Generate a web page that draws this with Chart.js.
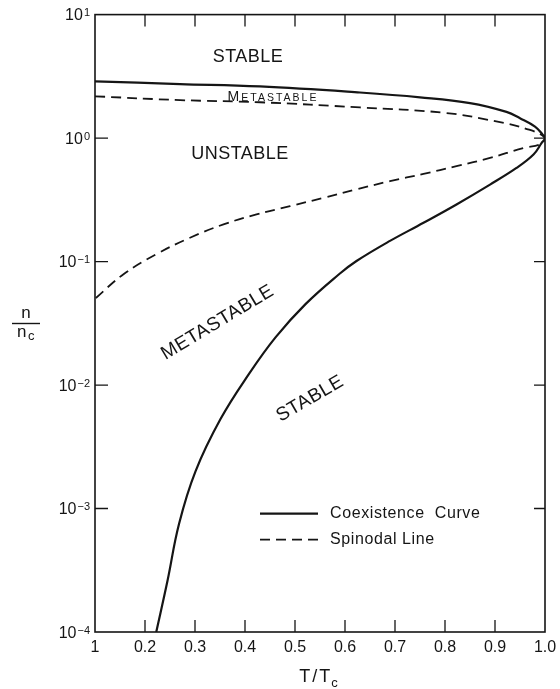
<!DOCTYPE html>
<html lang="en">
<head>
  <meta charset="UTF-8">
  <title>Coexistence curve and spinodal line</title>
  <script src="https://cdn.jsdelivr.net/npm/chart.js@4.4.1/dist/chart.umd.min.js"></script>
  <style>
    html, body { margin: 0; padding: 0; background: #fff; }
    #wrap { width: 560px; height: 689px; position: relative; }
  </style>
</head>
<body>
  <div id="wrap"><canvas id="phase"></canvas></div>

  <script>
    // values: dense branch left -> critical point -> dilute branch down
    const coexT = [0.1, 0.27, 0.43, 0.63, 0.75, 0.85, 0.923, 0.95, 0.98, 0.995, 1.0,
                   0.993, 0.977, 0.943, 0.89, 0.823, 0.757, 0.69, 0.623, 0.588, 0.521,
                   0.461, 0.408, 0.351, 0.301, 0.268, 0.245, 0.2225]
    const coexN = [2.88, 2.74, 2.62, 2.34, 2.14, 1.92, 1.63, 1.45, 1.24, 1.07, 1.0,
                   0.91, 0.736, 0.573, 0.42, 0.29, 0.206, 0.147, 0.101, 0.0789, 0.0452,
                   0.0243, 0.0123, 0.0053, 0.002, 0.00075, 0.00026, 0.0001]

    const spinT = [0.1, 0.27, 0.43, 0.63, 0.80, 0.90, 0.968, 1.0,
                   0.99, 0.957, 0.89, 0.823, 0.757, 0.69, 0.623, 0.557, 0.49,
                   0.423, 0.357, 0.29, 0.223, 0.157, 0.1]
    const spinN = [2.18, 2.03, 1.95, 1.77, 1.60, 1.37, 1.17, 1.0,
                   0.89, 0.832, 0.69, 0.592, 0.513, 0.448, 0.384, 0.328, 0.281,
                   0.241, 0.2, 0.156, 0.115, 0.079, 0.05]

    const tempTicks = [0.1, 0.2, 0.3, 0.4, 0.5, 0.6, 0.7, 0.8, 0.9, 1.0]
    const tempTickLabels = ["1", "0.2", "0.3", "0.4", "0.5", "0.6", "0.7", "0.8", "0.9", "1.0"]
    const densTicks = [1e-4, 1e-3, 1e-2, 1e-1, 1, 10]
    const densTickExps = ["−4", "−3", "−2", "−1", "0", "1"]

    const regionNames = ["STABLE", "METASTABLE", "UNSTABLE", "METASTABLE", "STABLE"]
    const legendNames = ["Coexistence  Curve", "Spinodal Line"]

    // where the words sit, in T/Tc and n/nc
    const regionSpots = [
      { t: 0.406, n: 4.5, rot: 0, size: 18 },
      { t: 0.456, n: 1.98, rot: 0, size: 0 },
      { t: 0.39, n: 0.74, rot: 0, size: 18 },
      { t: 0.345, n: 0.0321, rot: -31, size: 19 },
      { t: 0.53, n: 0.00773, rot: -30, size: 19 }
    ]
    const legendSpot = { t0: 0.43, t1: 0.546, tText: 0.57, n: [9.1e-4, 5.6e-4] }

    const ink = "#151515"
    const face = '"Liberation Sans", Arial, sans-serif'

    function smallCaps(ctx, word, cx, baseY) {
      ctx.letterSpacing = "2px"
      ctx.font = `14px ${face}`
      const w0 = ctx.measureText(word[0]).width
      ctx.font = `10.5px ${face}`
      const w1 = ctx.measureText(word.slice(1)).width
      const left = cx - (w0 + w1) / 2
      ctx.textAlign = "left"
      ctx.textBaseline = "alphabetic"
      ctx.font = `14px ${face}`
      ctx.fillText(word[0], left, baseY)
      ctx.font = `10.5px ${face}`
      ctx.fillText(word.slice(1), left + w0, baseY)
      ctx.letterSpacing = "0px"
    }

    const phaseDecor = {
      id: "phaseDecor",
      afterDraw(chart) {
        const { ctx, chartArea: a, scales: { x, y } } = chart
        ctx.save()
        ctx.strokeStyle = ink
        ctx.fillStyle = ink

        // frame + inward ticks
        ctx.lineWidth = 1.6
        ctx.strokeRect(a.left, a.top, a.right - a.left, a.bottom - a.top)
        ctx.lineWidth = 1.3
        ctx.beginPath()
        tempTicks.slice(1, -1).forEach(v => {
          const px = x.getPixelForValue(v)
          ctx.moveTo(px, a.bottom); ctx.lineTo(px, a.bottom - 12)
          ctx.moveTo(px, a.top); ctx.lineTo(px, a.top + 12)
        })
        densTicks.slice(1, -1).forEach(v => {
          const py = y.getPixelForValue(v)
          ctx.moveTo(a.left, py); ctx.lineTo(a.left + 13, py)
          ctx.moveTo(a.right, py); ctx.lineTo(a.right - 11, py)
        })
        ctx.stroke()

        // decade labels 10^k with a real raised exponent
        ctx.textBaseline = "alphabetic"
        ctx.textAlign = "left"
        densTicks.forEach((v, i) => {
          const py = y.getPixelForValue(v)
          ctx.font = `11px ${face}`
          const we = ctx.measureText(densTickExps[i]).width
          ctx.font = `16px ${face}`
          const wb = ctx.measureText("10").width
          const right = a.left - 5
          ctx.fillText("10", right - we - wb - 1, py + 5.5)
          ctx.font = `11px ${face}`
          ctx.fillText(densTickExps[i], right - we, py + 1.5)
        })

        // region words
        regionNames.forEach((word, i) => {
          const s = regionSpots[i]
          const px = x.getPixelForValue(s.t)
          const py = y.getPixelForValue(s.n)
          if (!s.size) { smallCaps(ctx, word, px, py); return }
          ctx.save()
          ctx.translate(px, py)
          ctx.rotate(s.rot * Math.PI / 180)
          ctx.font = `${s.size}px ${face}`
          ctx.letterSpacing = "0.5px"
          ctx.textAlign = "center"
          ctx.textBaseline = "middle"
          ctx.fillText(word, 0, 0)
          ctx.restore()
        })

        // legend inside the plot
        legendNames.forEach((name, i) => {
          const ds = chart.data.datasets[i]
          const py = y.getPixelForValue(legendSpot.n[i])
          ctx.save()
          ctx.lineWidth = ds.borderWidth
          ctx.setLineDash(ds.borderDash || [])
          ctx.beginPath()
          ctx.moveTo(x.getPixelForValue(legendSpot.t0), py)
          ctx.lineTo(x.getPixelForValue(legendSpot.t1), py)
          ctx.stroke()
          ctx.restore()
          ctx.font = `16px ${face}`
          ctx.letterSpacing = "0.6px"
          ctx.textAlign = "left"
          ctx.textBaseline = "middle"
          ctx.fillText(name, x.getPixelForValue(legendSpot.tText), py)
        })
        ctx.letterSpacing = "0px"

        // x title  T/Tc
        const cx = (a.left + a.right) / 2
        ctx.font = `18px ${face}`
        ctx.letterSpacing = "2px"
        const wT = ctx.measureText("T/T").width
        ctx.font = `13px ${face}`
        const wc = ctx.measureText("c").width
        let left = cx - (wT + wc) / 2
        ctx.textAlign = "left"
        ctx.textBaseline = "alphabetic"
        ctx.font = `18px ${face}`
        ctx.fillText("T/T", left, a.bottom + 50)
        ctx.font = `13px ${face}`
        ctx.fillText("c", left + wT - 1, a.bottom + 55)
        ctx.letterSpacing = "0px"

        // y title  n / nc
        ctx.font = `17px ${face}`
        ctx.textAlign = "center"
        ctx.fillText("n", 26, 318)
        ctx.lineWidth = 1.4
        ctx.beginPath()
        ctx.moveTo(12, 323.5); ctx.lineTo(40, 323.5)
        ctx.stroke()
        ctx.textAlign = "left"
        ctx.fillText("n", 17, 337)
        ctx.font = `13px ${face}`
        ctx.fillText("c", 28, 340)

        ctx.restore()
      }
    }

    const tickFont = { family: face, size: 16 }

    new Chart(document.getElementById("phase"), {
      type: "line",
      data: {
        datasets: [{
          label: legendNames[0],
          data: coexT.map((t, i) => ({ x: t, y: coexN[i] })),
          borderColor: ink,
          borderWidth: 2.2,
          pointRadius: 0,
          tension: 0.4,
          fill: false
        }, {
          label: legendNames[1],
          data: spinT.map((t, i) => ({ x: t, y: spinN[i] })),
          borderColor: ink,
          borderWidth: 1.8,
          borderDash: [10, 6],
          pointRadius: 0,
          tension: 0.4,
          fill: false
        }]
      },
      options: {
        responsive: true,
        maintainAspectRatio: false,
        animation: false,
        layout: { padding: { top: 13, right: 15, left: 0, bottom: 0 } },
        plugins: { legend: { display: false }, tooltip: { enabled: false } },
        scales: {
          x: {
            type: "linear",
            min: 0.1,
            max: 1.0,
            afterBuildTicks: s => { s.ticks = tempTicks.map(v => ({ value: v })) },
            afterFit: s => { s.height = 57 },
            ticks: {
              callback: (v, i) => tempTickLabels[i],
              font: tickFont,
              color: ink,
              padding: -2,
              maxRotation: 0,
              autoSkip: false
            },
            grid: { display: false },
            border: { display: false }
          },
          y: {
            type: "logarithmic",
            min: 1e-4,
            max: 10,
            afterBuildTicks: s => { s.ticks = densTicks.map(v => ({ value: v })) },
            afterFit: s => { s.width = 95 },
            ticks: {
              // drawn by phaseDecor so the exponent can be raised
              callback: () => "",
              font: tickFont,
              padding: 5,
              autoSkip: false
            },
            grid: { display: false },
            border: { display: false }
          }
        }
      },
      plugins: [phaseDecor]
    })
  </script>
</body>
</html>
